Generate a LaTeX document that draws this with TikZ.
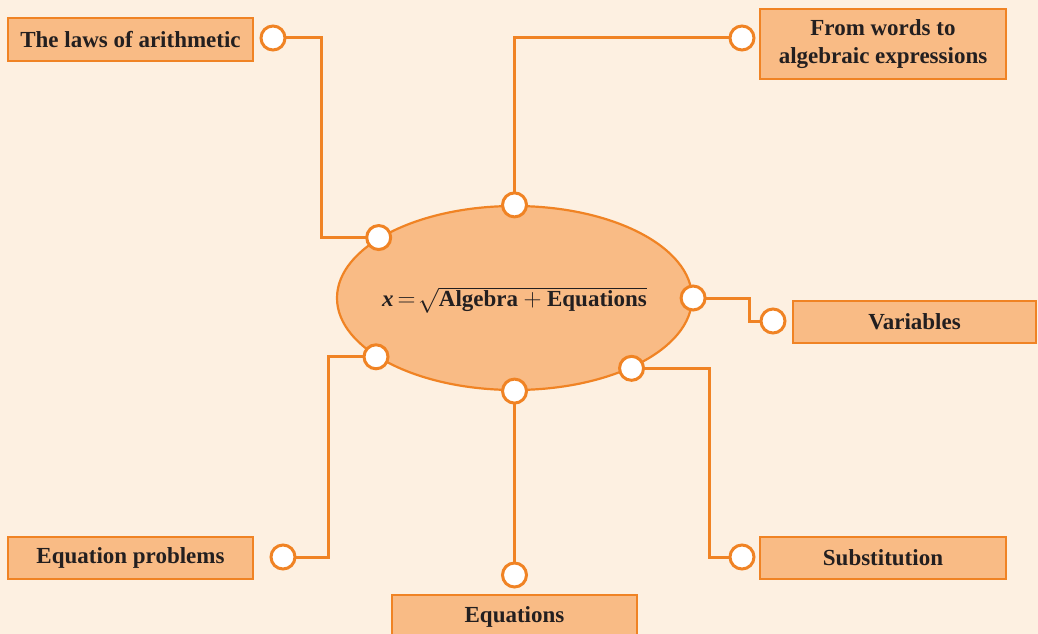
\documentclass[tikz,border=0pt]{standalone}
\usepackage{fontspec}
\setmainfont{Liberation Serif}
\usetikzlibrary{shapes.geometric,backgrounds}
\definecolor{pagebg}{HTML}{FDF0E1}
\definecolor{boxfill}{HTML}{F9BB85}
\definecolor{linecol}{HTML}{F08324}
\definecolor{inkcol}{HTML}{231F20}
\begin{document}
\begin{tikzpicture}[x=1pt,y=-1pt,
    topicbox/.style={draw=linecol,line width=2.5pt,fill=boxfill,inner sep=0pt,
      text=inkcol,font=\fontsize{23}{28}\selectfont\bfseries,align=center},
    hubshape/.style={ellipse,draw=linecol,line width=2.2pt,fill=boxfill,inner sep=0pt,
      minimum width=355,minimum height=184},
    hubtext/.style={inner sep=0pt,text=inkcol,font=\fontsize{23}{28}\selectfont},
    dot/.style={circle,draw=linecol,line width=3pt,fill=white,inner sep=0pt,minimum size=24},
    link/.style={draw=linecol,line width=3pt}]
        % page frame
        \useasboundingbox (0,0) rectangle (1038,634);
        \begin{scope}[on background layer]
        \fill[pagebg] (0,0) rectangle (1038,634);
        \end{scope}
        % centre ellipse
        \node[hubshape] (alg) at (514.5,298) {};
        \node[hubtext] (algtext) at ([yshift=-2pt]alg.center)
          {\textbf{\textit{x}}\,$=\!\sqrt{\mbox{\bfseries Algebra} + \mbox{\bfseries Equations}}$};
        % topic boxes
        \node[topicbox,minimum width=245,minimum height=43] (laws) at (130.5,39.5) {The laws of arithmetic};
        \node[topicbox,minimum width=246,minimum height=70] (words) at (883,44) {From words to\\algebraic expressions};
        \node[topicbox,minimum width=243,minimum height=42] (vars) at (914.5,322) {Variables};
        \node[topicbox,minimum width=245,minimum height=42] (prob) at (130.5,558) {Equation problems};
        \node[topicbox,minimum width=245,minimum height=44] (eqs) at (514.5,617) {Equations};
        \node[topicbox,minimum width=246,minimum height=42] (subst) at (883,558) {Substitution};
        % dot positions
        \coordinate (ulpt) at (alg.156);
        \coordinate (toppt) at (alg.north);
        \coordinate (rpt) at (alg.east);
        \coordinate (llpt) at (alg.203);
        \coordinate (botpt) at (alg.south);
        \coordinate (lrpt) at (alg.329);
        \coordinate (lawspt) at (273,38);
        \coordinate (wordspt) at (742,38);
        \coordinate (varspt) at (773,321);
        \coordinate (probpt) at (283,557);
        \coordinate (eqspt) at (514.5,575);
        \coordinate (substpt) at (742,557);
        % bends
        \coordinate (bendA) at (321,0);
        \coordinate (bendC) at (749,0);
        \coordinate (bendD) at (328,0);
        \coordinate (bendF) at (709,0);
        % connectors
        \begin{scope}[on background layer]
        \draw[link] (lawspt) -| (bendA |- ulpt) -- (ulpt);
        \draw[link] (wordspt) -| (toppt);
        \draw[link] (rpt) -- (rpt -| bendC) |- (varspt);
        \draw[link] (probpt) -- (probpt -| bendD) |- (llpt);
        \draw[link] (botpt) -- (eqspt);
        \draw[link] (lrpt) -- (lrpt -| bendF) |- (substpt);
        \end{scope}
        % dots
        \foreach \p in {ulpt,toppt,rpt,llpt,botpt,lrpt,lawspt,wordspt,varspt,probpt,eqspt,substpt}
          \node[dot] at (\p) {};
\end{tikzpicture}
\end{document}
